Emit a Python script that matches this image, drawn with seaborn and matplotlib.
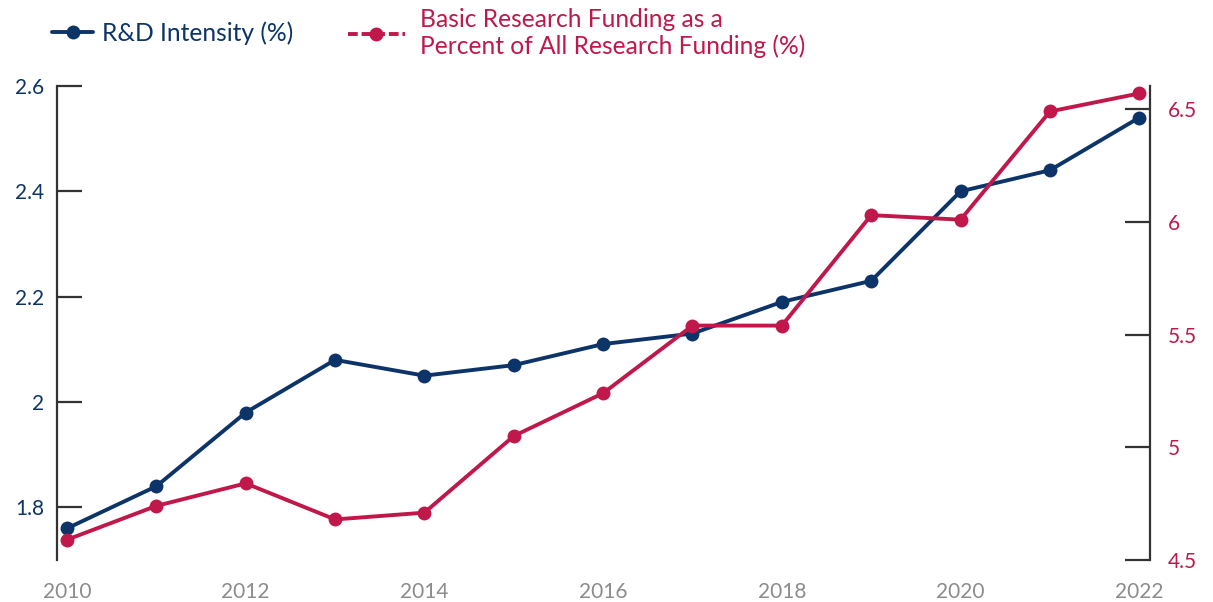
import matplotlib
matplotlib.use("Agg")
import matplotlib.pyplot as plt
from matplotlib.lines import Line2D
import pandas as pd
import seaborn as sns

# Data
years = [2010, 2011, 2012, 2013, 2014, 2015, 2016, 2017, 2018, 2019, 2020, 2021, 2022]
rd_intensity = [1.76, 1.84, 1.98, 2.08, 2.05, 2.07, 2.11, 2.13, 2.19, 2.23, 2.40, 2.44, 2.54]
basic_share = [4.59, 4.74, 4.84, 4.68, 4.71, 5.05, 5.24, 5.54, 5.54, 6.03, 6.01, 6.49, 6.57]

left_ticks = [1.8, 2.0, 2.2, 2.4, 2.6]
left_labels = ["1.8", "2", "2.2", "2.4", "2.6"]
right_ticks = [4.5, 5.0, 5.5, 6.0, 6.5]
right_labels = ["4.5", "5", "5.5", "6", "6.5"]
x_ticks = [2010, 2012, 2014, 2016, 2018, 2020, 2022]

label_rd = "R&D Intensity (%)"
label_basic = "Basic Research Funding as a\nPercent of All Research Funding (%)"

BLUE = "#0d3468"
RED = "#c0184a"
SPINE = "#333333"
GREY = "#8c8c8c"

sns.set_style("white")
plt.rcParams["font.family"] = ["Lato", "DejaVu Sans"]

df = pd.DataFrame({"year": years, "rd": rd_intensity, "basic": basic_share})

W, H = 1213, 602
fig = plt.figure(figsize=(W / 100, H / 100), dpi=100)
ax = fig.add_axes([56.7 / W, 42 / H, (1150 - 56.7) / W, (560 - 86) / H])
ax2 = ax.twinx()

line_kw = dict(linewidth=2.8, marker="o", markersize=10, markeredgewidth=0)
sns.lineplot(data=df, x="year", y="rd", ax=ax, color=BLUE, **line_kw)
sns.lineplot(data=df, x="year", y="basic", ax=ax2, color=RED, **line_kw)

ax.set_xlim(2009.885, 2022.12)
ax.set_ylim(1.7, 2.6)
ax2.set_ylim(4.5, 6.603)

ax.set_xlabel("")
ax.set_ylabel("")
ax2.set_ylabel("")

ax.set_yticks(left_ticks, left_labels)
ax2.set_yticks(right_ticks, right_labels)
ax.set_xticks(x_ticks, [str(y) for y in x_ticks])

for a in (ax, ax2):
    for s in a.spines.values():
        s.set_visible(False)
    a.grid(False)
ax.spines["left"].set_visible(True)
ax.spines["left"].set_color(SPINE)
ax.spines["left"].set_linewidth(1.6)
ax2.spines["right"].set_visible(True)
ax2.spines["right"].set_color(SPINE)
ax2.spines["right"].set_linewidth(1.6)

ax.tick_params(axis="y", direction="in", length=18, width=1.6, color=SPINE,
               labelcolor=BLUE, labelsize=15, pad=9, left=True)
ax2.tick_params(axis="y", direction="in", length=18, width=1.6, color=SPINE,
                labelcolor=RED, labelsize=15, pad=13, right=True)
ax.tick_params(axis="x", length=0, labelcolor=GREY, labelsize=15, pad=16)

# Legend entries, each with its own handle length
h_rd = Line2D([0], [0], color=BLUE, **line_kw)
h_basic = Line2D([0], [0], color=RED, linestyle=(0, (2.5, 1.0)), **line_kw)

LEG_FS = 17.7
leg1 = fig.legend([h_rd], [label_rd], loc="center left",
                  bbox_to_anchor=(52 / W, 1 - 33 / H), frameon=False,
                  fontsize=LEG_FS, handlelength=1.67, handletextpad=0.37,
                  borderpad=0, borderaxespad=0)
leg2 = fig.legend([h_basic], [label_basic], loc="center left",
                  bbox_to_anchor=(348 / W, 1 - 33 / H), frameon=False,
                  fontsize=LEG_FS, handlelength=2.31, handletextpad=0.61,
                  borderpad=0, borderaxespad=0)
for t in leg1.get_texts():
    t.set_color(BLUE)
for t in leg2.get_texts():
    t.set_color(RED)
    t.set_linespacing(1.22)

fig.savefig("out.png", dpi=100)
